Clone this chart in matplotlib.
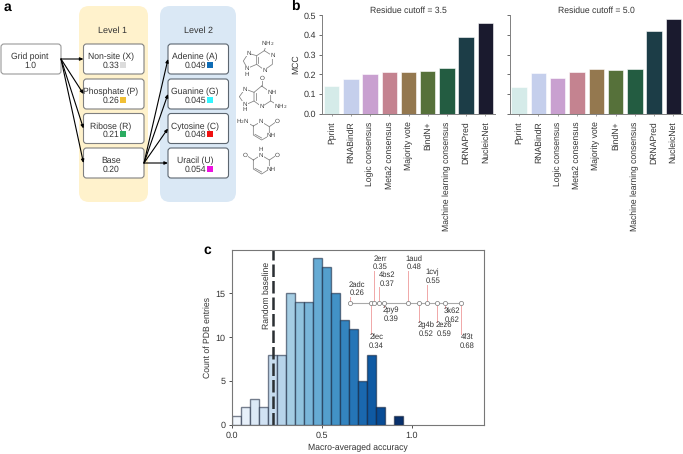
import matplotlib
matplotlib.use('Agg')
import matplotlib.pyplot as plt
from matplotlib.patches import FancyBboxPatch, Rectangle

plt.rcParams['font.family'] = ['Liberation Sans', 'DejaVu Sans']
plt.rcParams['font.size'] = 6.2
plt.rcParams['text.hinting'] = 'no_hinting'
plt.rcParams['text.color'] = '#333333'
plt.rcParams['axes.labelcolor'] = '#333333'
plt.rcParams['xtick.color'] = '#333333'
plt.rcParams['ytick.color'] = '#333333'

W, H = 683, 454

# panel b data
methods = ['Pprint', 'RNABindR', 'Logic consensus', 'Meta2 consensus', 'Majority vote',
           'BindN+', 'Machine learning consensus', 'DRNAPred', 'NucleicNet']
mcc_35 = [0.14, 0.177, 0.202, 0.21, 0.211, 0.218, 0.233, 0.39, 0.46]
mcc_50 = [0.135, 0.207, 0.18, 0.213, 0.225, 0.221, 0.228, 0.42, 0.48]
bar_colors = ['#d5ebe9', '#c5cfec', '#c9a0d0', '#c48390', '#94784f',
              '#56713a', '#235c41', '#1c3d47', '#1a1a2e']

# panel c data
hist_left = [0.0, 0.05, 0.1, 0.15, 0.2, 0.25, 0.3, 0.35, 0.4, 0.45, 0.5, 0.55, 0.6,
             0.65, 0.7, 0.75, 0.8, 0.85, 0.9]
hist_count = [1, 2, 3, 2, 8, 8, 15, 14, 14, 19, 18, 15, 12, 11, 5, 8, 2, 0, 1]
baseline = 0.226

pdb_names = ['2adc', '2lec', '2err', '4bs2', '2py9', '1aud', '2g4b', '1cvj', '2ez6', '3k62', '4f3t']
pdb_acc = [0.26, 0.34, 0.35, 0.37, 0.39, 0.48, 0.52, 0.55, 0.59, 0.62, 0.68]

# panel a data
level1 = [('Non-site (X)', '0.33', '#d9d9d9'), ('Phosphate (P)', '0.26', '#f0b81e'),
          ('Ribose (R)', '0.21', '#14a350'), ('Base', '0.20', None)]
level2 = [('Adenine (A)', '0.049', '#0f6cb5'), ('Guanine (G)', '0.045', '#33f5ff'),
          ('Cytosine (C)', '0.048', '#f01010'), ('Uracil (U)', '0.054', '#ee10e0')]


def px_axes(x0, y0, x1, y1):
    # rectangle given in image pixels, y going down
    return fig.add_axes([x0 / W, 1 - y1 / H, (x1 - x0) / W, (y1 - y0) / H])


fig = plt.figure(figsize=(6.83, 4.54), dpi=100)

# overlay for panel a, molecules and panel letters
ov = fig.add_axes([0, 0, 1, 1], zorder=0)
ov.set_xlim(0, W)
ov.set_ylim(H, 0)
ov.axis('off')


def round_box(x0, y0, x1, y1, fc, ec, lw=0.8, rad=3):
    ov.add_patch(FancyBboxPatch((x0 + rad, y0 + rad), x1 - x0 - 2 * rad, y1 - y0 - 2 * rad,
                                boxstyle='round,pad=%d,rounding_size=%d' % (rad, rad),
                                fc=fc, ec=ec, lw=lw))


def arrow(x0, y0, x1, y1):
    ov.annotate('', xy=(x1, y1), xytext=(x0, y0),
                arrowprops=dict(arrowstyle='-|>,head_width=0.14,head_length=0.32', color='black',
                                lw=0.8, shrinkA=0, shrinkB=0))


round_box(79, 6, 148, 202, '#fff2cc', 'none', rad=10)
round_box(160, 6, 236, 202, '#dae8f5', 'none', rad=10)
ov.text(112, 31, 'Level 1', ha='center', va='center', fontsize=6.5)
ov.text(198, 31, 'Level 2', ha='center', va='center', fontsize=6.5)

round_box(1, 44, 61, 74, 'white', '#999999')
ov.text(30, 57, 'Grid point', ha='center', va='center')
ov.text(30, 65.5, '1.0', ha='center', va='center')

box_tops = [44, 79, 113.5, 148]
for top, (name, val, col) in zip(box_tops, level1):
    round_box(83.5, top, 144, top + 30, 'white', '#808080')
    ov.text(111, top + 13, name, ha='center', va='center')
    ov.text(111, top + 21.5, val, ha='center', va='center')
    if col:
        ov.add_patch(Rectangle((120, top + 17.5), 6, 6, fc=col, ec='none', alpha=0.9))
    arrow(61, 59, 83.5, top + 15)

for top, (name, val, col) in zip(box_tops, level2):
    round_box(168, top, 228.5, top + 30, 'white', '#5c6670')
    ov.text(195, top + 13, name, ha='center', va='center')
    ov.text(195, top + 21.5, val, ha='center', va='center')
    ov.add_patch(Rectangle((207, top + 17.5), 6, 6, fc=col, ec='none'))
    arrow(144, 163, 168, top + 15)

# molecule sketches, coordinates in 3x pixels
bond_col = '#808080'


def chain(pts, close=True):
    pts = [(x / 3, y / 3) for x, y in pts]
    if close:
        pts = pts + pts[:1]
    ov.plot([p[0] for p in pts], [p[1] for p in pts], color=bond_col, lw=0.55, zorder=1)


def atom(x, y, s):
    ov.text(x / 3, y / 3, s, ha='center', va='center', fontsize=4.5, color='#444444', zorder=2,
            bbox=dict(fc='white', ec='none', pad=0.2))


chain([(793, 152), (817, 167), (817, 193), (793, 210), (770, 193), (770, 167)])
chain([(770, 167), (745, 160), (730, 183), (742, 205), (770, 193)], close=False)
chain([(793, 152), (798, 137)], close=False)
chain([(775, 170), (775, 190)], close=False)
for a in [(802, 129, 'NH$_2$'), (817, 167, 'N'), (793, 212, 'N'), (745, 160, 'N'), (741, 206, 'N'), (741, 222, 'H')]:
    atom(*a)

chain([(785, 258), (812, 277), (812, 303), (785, 320), (762, 303), (762, 277)])
chain([(762, 277), (735, 267), (718, 290), (735, 315), (762, 303)], close=False)
chain([(785, 258), (785, 240)], close=False)
chain([(812, 303), (832, 315)], close=False)
chain([(767, 280), (767, 300)], close=False)
for a in [(785, 235, 'O'), (816, 277, 'NH'), (843, 320, 'NH$_2$'), (785, 320, 'N'), (735, 267, 'N'), (735, 312, 'N'), (735, 328, 'H')]:
    atom(*a)

chain([(760, 378), (783, 365), (808, 380), (808, 407), (785, 420), (760, 405)])
chain([(738, 366), (760, 378)], close=False)
chain([(808, 380), (826, 367)], close=False)
chain([(765, 403), (785, 414)], close=False)
for a in [(728, 365, 'H$_2$N'), (783, 365, 'N'), (832, 365, 'O'), (814, 407, 'NH')]:
    atom(*a)

chain([(760, 480), (783, 465), (808, 480), (808, 507), (785, 522), (760, 507)])
chain([(742, 468), (760, 480)], close=False)
chain([(808, 480), (826, 468)], close=False)
chain([(765, 505), (785, 516)], close=False)
for a in [(735, 467, 'O'), (783, 465, 'N'), (783, 449, 'H'), (832, 467, 'O'), (814, 507, 'NH')]:
    atom(*a)

ov.text(7, 7, 'a', fontsize=10, fontweight='bold', color='black', ha='center', va='center')
ov.text(295, 6.5, 'b', fontsize=10, fontweight='bold', color='black', ha='center', va='center')
ov.text(207, 250, 'c', fontsize=10, fontweight='bold', color='black', ha='center', va='center')

# panel b
ax1 = px_axes(322, 15.3, 495, 113.7)
ax2 = px_axes(509.5, 15.3, 683, 113.7)
for ax, vals, title in [(ax1, mcc_35, 'Residue cutoff = 3.5'), (ax2, mcc_50, 'Residue cutoff = 5.0')]:
    ax.bar(methods, vals, width=0.8, color=bar_colors, edgecolor='white', linewidth=0.4)
    ax.set_xlim(-0.5, 8.5)
    ax.set_ylim(0, 0.5)
    ax.set_title(title, fontsize=6.2, pad=1.8)
    ax.set_yticks([0, 0.1, 0.2, 0.3, 0.4, 0.5])
    ax.tick_params(axis='x', rotation=90, length=1.5, width=0.5, color='#777777', pad=4, labelsize=6.2)
    ax.tick_params(axis='y', length=2.5, width=0.6, color='#555555', labelsize=6.5, pad=2)
    for s in ['top', 'right']:
        ax.spines[s].set_visible(False)
    for s in ['left', 'bottom']:
        ax.spines[s].set_linewidth(0.7)
        ax.spines[s].set_color('#808080')
ax1.set_ylabel('MCC', fontsize=6.2, labelpad=2)
ax2.tick_params(axis='y', labelleft=False)

# panel c
axc = px_axes(232, 250, 484, 425)
cmap = plt.get_cmap('Blues')
hist_cols = [cmap(0.03 + 0.97 * x / 0.9) for x in hist_left]
axc.bar(hist_left, hist_count, width=0.05, align='edge', color=hist_cols,
        edgecolor=(0.05, 0.1, 0.2, 0.55), linewidth=1.0)
axc.axvline(baseline, color='#2a2f33', lw=1.8, ls=(0, (5, 1.6)))
axc.text(0.19, 14.77, 'Random baseline', rotation=90, ha='center', va='center', fontsize=6.2)
axc.set_xlim(0, 1.4)
axc.set_ylim(0, 19.95)
axc.set_xticks([0, 0.5, 1.0])
axc.set_xticklabels(['0.0', '0.5', '1.0'])
axc.set_yticks([0, 5, 10, 15])
axc.tick_params(length=2.5, width=0.6, labelsize=6.5, pad=2)
axc.set_xlabel('Macro-averaged accuracy', fontsize=6.2, labelpad=3)
axc.set_ylabel('Count of PDB entries', fontsize=6.2, labelpad=3)
for s in axc.spines.values():
    s.set_color('#777777')
    s.set_linewidth(0.8)

# timeline inset: x is accuracy, y is pixels above the line
axt = px_axes(350, 250, 461, 350)
axt.set_xlim(0.26, 0.68)
axt.set_ylim(-47.3, 52.7)
axt.axis('off')
axt.patch.set_alpha(0)
stem_len = [6, -31, 32, 15.5, -4, 32, -19, 18, -19, -5, -31]
text_dx = [7, 5, 6.5, 7.7, 6.7, 5.6, 7, 6, 7, 7, 6]
for name, acc, st, dx in zip(pdb_names, pdb_acc, stem_len, text_dx):
    axt.plot([acc, acc], [0, st], color='#f0a8a8', lw=0.7, zorder=1, clip_on=False)
    if st > 0:
        yn, yv = st + 12, st + 3.5
    else:
        yn, yv = st - 3.5, st - 12
    axt.annotate(name, (acc, yn), xytext=(dx * 0.72, 0), textcoords='offset points',
                 ha='center', va='center', fontsize=5.5, annotation_clip=False)
    axt.annotate('%.2f' % acc, (acc, yv), xytext=(dx * 0.72, 0), textcoords='offset points',
                 ha='center', va='center', fontsize=5.5, annotation_clip=False)
axt.plot(pdb_acc, [0] * len(pdb_acc), color='#aaaaaa', lw=0.8, marker='o', ms=3,
         mfc='white', mec='#777777', mew=0.5, zorder=2, clip_on=False)

fig.savefig('out.png', dpi=100)
